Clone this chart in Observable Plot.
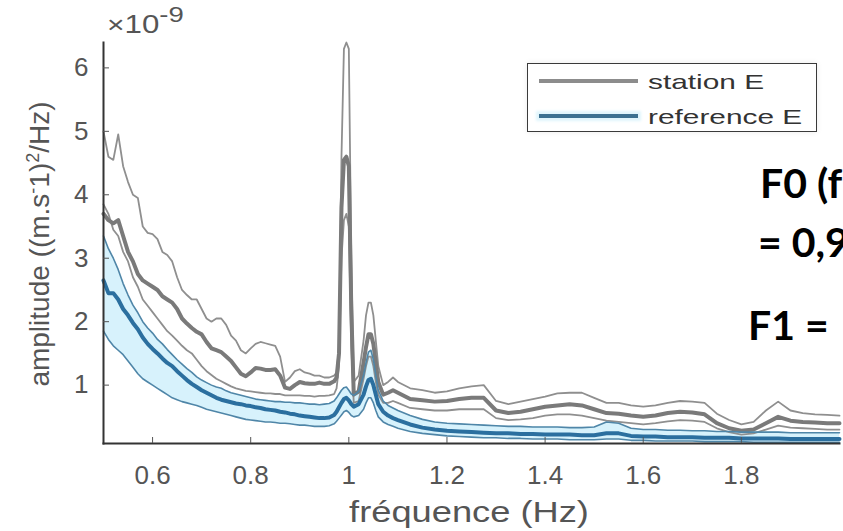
<!DOCTYPE html>
<html>
<head>
<meta charset="utf-8">
<script src="https://cdn.jsdelivr.net/npm/d3@7"></script>
<script src="https://cdn.jsdelivr.net/npm/@observablehq/plot@0.6"></script>
<style>
  html, body { margin: 0; padding: 0; background: #fff; }
  #wrap { position: relative; width: 843px; height: 531px; overflow: hidden; background: #fff; font-family: "Liberation Sans", Arial, sans-serif; }
  #chart { position: absolute; left: 0; top: 0; }
  .ov { position: absolute; white-space: nowrap; }
  #ylab { left: 40px; top: 244px; transform: translate(-50%, -50%) rotate(-90deg); font-size: 28px; color: #555; }
  #ylab sup { font-size: 18px; vertical-align: 10px; line-height: 0; }
  #xlab { left: 469px; top: 498px; font-size: 29px; line-height: 29px; color: #555; transform: translateX(-50%) scaleX(1.25); }
  #expo { left: 107px; top: 12px; font-size: 25px; line-height: 25px; color: #555; transform-origin: left top; transform: scaleX(1.25); }
  #expo .x { font-size: 24px; }
  #expo sup { font-size: 22px; vertical-align: 11px; line-height: 0; }
  #legend { left: 527px; top: 63px; width: 288px; height: 67px; border: 1.5px solid #3a3a3a; background: #fff; box-shadow: 0 0 6px rgba(0,0,0,0.08); }
  .lg-line { position: absolute; left: 11px; width: 99px; height: 4px; }
  .lg-text { position: absolute; left: 120px; font-size: 21px; line-height: 21px; color: #333; transform-origin: left center; transform: scaleX(1.42); }
  .bold { font-family: Lato, "Open Sans", sans-serif; font-weight: 700; font-size: 41px; line-height: 41px; color: #000; }
</style>
</head>
<body>
<div id="wrap">
  <div id="chart"></div>
  <div class="ov" id="expo"><span class="x">×</span>10<sup>-9</sup></div>
  <div class="ov" id="ylab">amplitude ((m.s<sup>-</sup>1)<sup>2</sup>/Hz)</div>
  <div class="ov" id="xlab">fréquence (Hz)</div>
  <div class="ov" id="legend">
    <div class="lg-line" style="top:15px;background:#8c8c8c;"></div>
    <div class="lg-text" style="top:7px;">station E</div>
    <div class="lg-line" style="top:50px;background:#3d7191;box-shadow:0 0 3px 3px #dff5fc;"></div>
    <div class="lg-text" style="top:42px;">reference E</div>
  </div>
  <div class="ov bold" style="left:760px; top:162px;">F0 (f</div>
  <div class="ov bold" style="left:758px; top:221px;">= 0,9</div>
  <div class="ov bold" style="left:748px; top:304px;">F1 =</div>
</div>
<script>
// frequency grid (Hz)
const freq = [
  0.50,0.51,0.52,0.53,0.54,0.55,0.56,0.57,0.58,0.59,0.60,0.61,0.62,0.63,0.64,0.65,0.66,0.67,0.68,0.69,0.70,0.71,0.72,0.73,0.74,0.75,0.76,0.77,0.78,0.79,0.80,0.81,0.82,0.83,0.84,0.85,0.86,0.87,0.88,0.89,0.90,0.91,0.92,0.93,0.94,0.95,0.96,0.97,
  0.975,0.98,0.985,0.99,0.995,1.00,1.005,1.01,1.02,1.03,1.035,1.04,1.045,1.05,1.055,1.06,1.07,1.08,1.09,
  1.10,1.125,1.15,1.175,1.2,1.225,1.25,1.275,1.3,1.325,1.35,1.375,1.4,1.425,1.45,1.475,1.5,1.525,1.55,1.575,1.6,1.625,1.65,1.675,1.7,1.725,1.75,1.775,1.8,1.825,1.85,1.875,1.9,1.925,1.95,1.975,2.0
];
// station E: upper bound, mean, lower bound (x 1e-9)
const stationUpper = [
  5.0,4.6,4.55,4.95,4.45,4.2,4.0,3.95,3.5,3.4,3.38,3.3,3.1,3.05,2.95,2.7,2.5,2.42,2.35,2.35,2.2,2.05,2.0,2.05,2.05,1.95,1.78,1.7,1.55,1.5,1.58,1.65,1.68,1.66,1.64,1.62,1.45,1.05,1.12,1.22,1.25,1.2,1.18,1.15,1.15,1.12,1.12,1.15,
  1.2,1.6,4.6,6.3,6.4,6.3,3.0,1.05,1.15,1.7,2.1,2.3,2.3,2.1,1.7,1.3,1.0,1.05,1.12,
  1.05,0.95,0.92,0.88,0.9,0.95,0.98,1.0,0.75,0.7,0.74,0.78,0.82,0.87,0.88,0.88,0.8,0.72,0.72,0.68,0.66,0.68,0.72,0.75,0.74,0.72,0.55,0.45,0.38,0.42,0.6,0.74,0.6,0.56,0.54,0.53,0.52
];
const stationMean = [
  3.7,3.6,3.55,3.6,3.35,3.1,2.95,2.75,2.65,2.6,2.55,2.5,2.4,2.35,2.3,2.2,2.05,1.97,1.9,1.84,1.8,1.68,1.58,1.55,1.52,1.45,1.38,1.28,1.18,1.14,1.2,1.27,1.26,1.24,1.24,1.25,1.15,0.96,0.94,1.0,1.05,1.03,1.02,1.02,1.04,1.02,1.02,1.06,
  1.12,1.5,3.8,4.55,4.6,4.45,2.2,0.85,0.9,1.35,1.6,1.8,1.8,1.65,1.35,1.05,0.85,0.88,0.92,
  0.88,0.78,0.76,0.74,0.75,0.78,0.8,0.8,0.6,0.56,0.58,0.62,0.66,0.68,0.7,0.68,0.62,0.56,0.55,0.52,0.5,0.52,0.56,0.58,0.57,0.54,0.4,0.32,0.28,0.3,0.4,0.5,0.44,0.42,0.41,0.4,0.4
];
const stationLower = [
  3.85,3.7,3.45,3.35,3.1,2.95,2.7,2.55,2.35,2.25,2.15,2.05,1.95,1.85,1.78,1.7,1.62,1.55,1.5,1.4,1.3,1.22,1.16,1.1,1.06,1.02,0.98,0.95,0.93,0.91,0.9,0.89,0.88,0.87,0.87,0.86,0.86,0.84,0.84,0.84,0.84,0.83,0.83,0.82,0.83,0.83,0.84,0.86,
  0.95,1.3,3.0,3.6,3.7,3.5,1.6,0.72,0.75,1.1,1.3,1.45,1.45,1.3,1.05,0.85,0.72,0.72,0.75,
  0.72,0.64,0.62,0.6,0.6,0.62,0.62,0.62,0.48,0.45,0.46,0.48,0.52,0.54,0.54,0.52,0.48,0.44,0.42,0.4,0.38,0.4,0.43,0.45,0.44,0.42,0.32,0.26,0.22,0.24,0.3,0.36,0.33,0.32,0.31,0.3,0.3
];
// reference E: upper bound, mean, lower bound (x 1e-9)
const referenceUpper = [
  3.35,3.15,3.0,2.82,2.6,2.42,2.26,2.14,2.0,1.9,1.82,1.72,1.65,1.56,1.48,1.4,1.33,1.26,1.2,1.13,1.08,1.04,1.0,0.97,0.95,0.91,0.88,0.86,0.84,0.82,0.8,0.78,0.77,0.76,0.75,0.74,0.74,0.73,0.73,0.72,0.72,0.71,0.7,0.7,0.69,0.7,0.71,0.75,
  0.8,0.86,0.92,0.96,0.97,0.92,0.86,0.84,0.9,1.15,1.35,1.52,1.55,1.4,1.15,0.92,0.75,0.68,0.64,
  0.6,0.52,0.46,0.42,0.4,0.39,0.38,0.37,0.36,0.35,0.35,0.34,0.34,0.34,0.33,0.33,0.34,0.42,0.4,0.32,0.3,0.3,0.29,0.29,0.28,0.28,0.27,0.27,0.26,0.26,0.26,0.26,0.25,0.25,0.25,0.25,0.25
];
const referenceMean = [
  2.65,2.45,2.45,2.35,2.2,2.1,1.98,1.88,1.75,1.65,1.57,1.5,1.42,1.35,1.3,1.22,1.15,1.08,1.02,0.97,0.92,0.88,0.84,0.8,0.77,0.75,0.73,0.71,0.7,0.68,0.67,0.65,0.64,0.62,0.61,0.6,0.58,0.57,0.55,0.54,0.52,0.51,0.5,0.49,0.48,0.48,0.49,0.53,
  0.58,0.65,0.72,0.78,0.8,0.76,0.7,0.66,0.7,0.85,0.98,1.08,1.1,1.0,0.85,0.7,0.58,0.52,0.48,
  0.45,0.38,0.33,0.3,0.28,0.27,0.26,0.25,0.24,0.24,0.23,0.23,0.22,0.22,0.22,0.21,0.21,0.24,0.24,0.2,0.19,0.19,0.18,0.18,0.18,0.17,0.17,0.17,0.16,0.16,0.16,0.16,0.15,0.15,0.15,0.15,0.15
];
const referenceLower = [
  1.85,1.72,1.62,1.55,1.48,1.38,1.28,1.18,1.1,1.05,1.0,0.95,0.9,0.85,0.8,0.77,0.74,0.72,0.7,0.68,0.65,0.62,0.6,0.58,0.56,0.54,0.52,0.5,0.48,0.46,0.45,0.44,0.43,0.42,0.42,0.41,0.4,0.4,0.39,0.38,0.37,0.37,0.36,0.35,0.35,0.35,0.36,0.39,
  0.43,0.48,0.53,0.58,0.6,0.57,0.52,0.5,0.52,0.62,0.72,0.8,0.8,0.72,0.6,0.5,0.42,0.38,0.35,
  0.32,0.27,0.24,0.22,0.2,0.19,0.18,0.17,0.17,0.16,0.16,0.15,0.15,0.15,0.14,0.14,0.14,0.15,0.15,0.13,0.13,0.12,0.12,0.12,0.12,0.11,0.11,0.11,0.11,0.1,0.1,0.1,0.1,0.1,0.1,0.1,0.1
];
// ticks
const xTicks = [0.6, 0.8, 1, 1.2, 1.4, 1.6, 1.8];
const xTickLabels = ["0.6", "0.8", "1", "1.2", "1.4", "1.6", "1.8"];
const yTicks = [1, 2, 3, 4, 5, 6];
const yTickLabels = ["1", "2", "3", "4", "5", "6"];

const rows = freq.map((f, i) => ({
  f, su: stationUpper[i], sm: stationMean[i], sl: stationLower[i],
  ru: referenceUpper[i], rm: referenceMean[i], rl: referenceLower[i]
}));

const chart = Plot.plot({
  width: 843, height: 531,
  marginLeft: 103, marginRight: 4, marginTop: 42, marginBottom: 88,
  style: { fontFamily: "Liberation Sans, Arial, sans-serif", background: "transparent", overflow: "visible" },
  x: { domain: [0.5, 2], axis: null },
  y: { domain: [0.08, 6.4], axis: null },
  marks: [
    Plot.areaY(rows, { x: "f", y1: "rl", y2: "ru", fill: "#d3f1fc", fillOpacity: 0.9 }),
    Plot.lineY(rows, { x: "f", y: "su", stroke: "#8f8f8f", strokeWidth: 1.8 }),
    Plot.lineY(rows, { x: "f", y: "sl", stroke: "#8f8f8f", strokeWidth: 1.8 }),
    Plot.lineY(rows, { x: "f", y: "sm", stroke: "#7a7a7a", strokeWidth: 4 }),
    Plot.lineY(rows, { x: "f", y: "ru", stroke: "#4f86a8", strokeWidth: 1.6 }),
    Plot.lineY(rows, { x: "f", y: "rl", stroke: "#4f86a8", strokeWidth: 1.6 }),
    Plot.lineY(rows, { x: "f", y: "rm", stroke: "#2b6f9f", strokeWidth: 4 }),
    Plot.frame({ anchor: "left", stroke: "#333", strokeWidth: 2 }),
    Plot.frame({ anchor: "bottom", stroke: "#333", strokeWidth: 2 }),
    Plot.axisX(xTicks, { anchor: "bottom", tickSize: -6, tickPadding: 28, fontSize: 26, color: "#555", label: null,
      tickFormat: d => xTickLabels[xTicks.indexOf(d)] }),
    Plot.axisY(yTicks, { anchor: "left", tickSize: -6, tickPadding: 21, fontSize: 26, color: "#555", label: null,
      tickFormat: d => yTickLabels[yTicks.indexOf(d)] })
  ]
});
document.getElementById("chart").appendChild(chart);
</script>
</body>
</html>
